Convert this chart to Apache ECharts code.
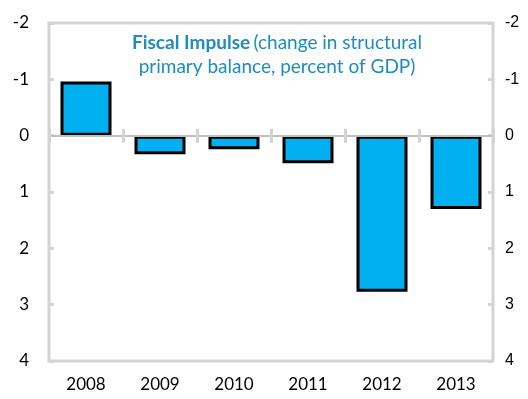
<!DOCTYPE html>
<html><head><meta charset="utf-8">
<script src="https://cdn.jsdelivr.net/npm/echarts@6/dist/echarts.min.js"></script>
<style>html,body{margin:0;padding:0;background:#fff}#c{width:528px;height:399px}</style>
</head><body><div id="c"></div>
<script>
const years = ['2008','2009','2010','2011','2012','2013'];
const impulse = [-0.96, 0.33, 0.24, 0.49, 2.77, 1.30];
const yTicks = {min: -2, max: 4, interval: 1};

const gray = '#d3d3d3';
const chart = echarts.init(document.getElementById('c'));
const font = 'Lato, "Open Sans", sans-serif';
chart.setOption({
  animation: false,
  grid: {left: 49, right: 35, top: 23, bottom: 38, show: true, borderColor: gray, borderWidth: 3, backgroundColor: 'transparent'},
  graphic: [{
    type: 'text', x: 277, y: 31,
    style: {
      text: '{b|Fiscal Impulse} {n|(change in structural}\n{n|primary balance, percent of GDP)}',
      textAlign: 'center',
      rich: {
        b: {fontFamily: font, fontSize: 19, fontWeight: 'bold', fill: '#1e8cbe', lineHeight: 24},
        n: {fontFamily: font, fontSize: 19, fill: '#1e8cbe', lineHeight: 24}
      }
    }
  }],
  xAxis: [
    {type: 'category', data: years, position: 'bottom',
     axisLine: {show: false, onZero: false}, axisTick: {show: false},
     axisLabel: {fontFamily: font, fontSize: 17, color: '#000', margin: 15}},
    {type: 'category', data: years, position: 'bottom', z: 5,
     axisLine: {show: true, onZero: true, onZeroAxisIndex: 0, lineStyle: {color: '#c0c0c0', width: 2}},
     axisTick: {show: true, length: 7, lineStyle: {color: gray, width: 3}},
     axisLabel: {show: false}},
    {type: 'category', data: years, position: 'top', z: 5,
     axisLine: {show: false, onZero: true, onZeroAxisIndex: 0},
     axisTick: {show: true, length: 7, lineStyle: {color: gray, width: 3}},
     axisLabel: {show: false}}
  ],
  yAxis: [
    {type: 'value', inverse: true, min: yTicks.min, max: yTicks.max, interval: yTicks.interval, position: 'left',
     axisLine: {show: false}, splitLine: {show: false},
     axisTick: {show: true, inside: true, length: 5, lineStyle: {color: gray, width: 3}},
     axisLabel: {fontFamily: font, fontSize: 17, color: '#000', margin: 20}},
    {type: 'value', inverse: true, min: yTicks.min, max: yTicks.max, interval: yTicks.interval, position: 'right',
     axisLine: {show: false}, splitLine: {show: false},
     axisTick: {show: true, inside: true, length: 5, lineStyle: {color: gray, width: 3}},
     axisLabel: {fontFamily: '"Liberation Sans", Arial, sans-serif', fontSize: 16, color: '#000', margin: 12}}
  ],
  series: [{
    type: 'bar', data: impulse, xAxisIndex: 0, yAxisIndex: 0, barWidth: 51,
    itemStyle: {color: '#00b0f0', borderColor: '#000', borderWidth: 3},
    z: 1
  }]
});
</script></body></html>
